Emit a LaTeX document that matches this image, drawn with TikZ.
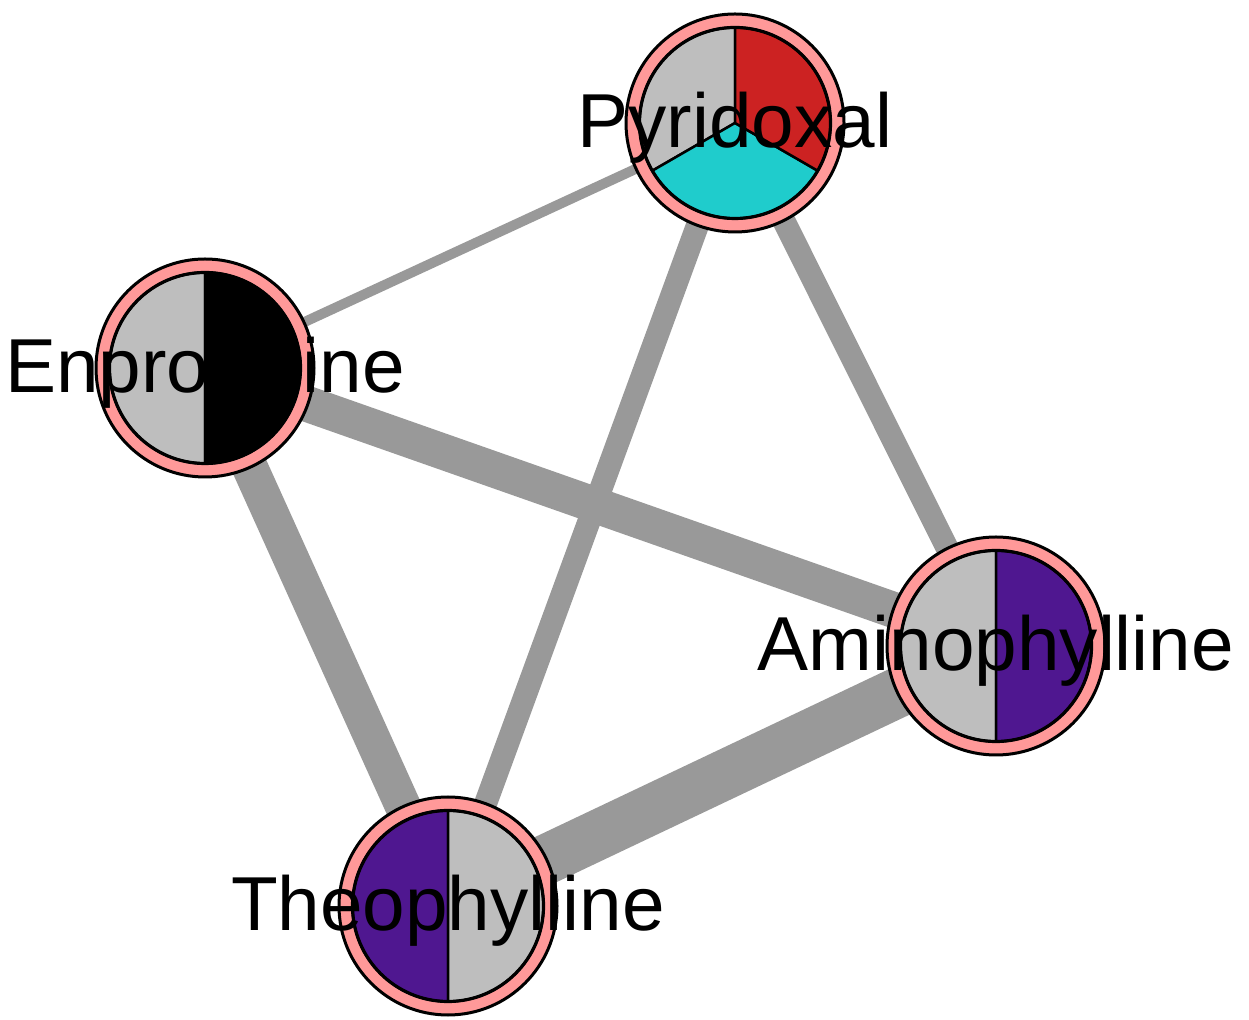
\documentclass[tikz,border=0pt]{standalone}
\usepackage{fontspec}
\setmainfont{Liberation Sans}
\usetikzlibrary{calc}
\definecolor{edgegray}{HTML}{999999}
\definecolor{slicegray}{HTML}{BEBEBE}
\definecolor{ringpink}{HTML}{FF9999}
\definecolor{pred}{HTML}{CC2222}
\definecolor{pcyan}{HTML}{1FCCCC}
\definecolor{ppurple}{HTML}{4F1790}
\pgfdeclarelayer{bg}
\pgfsetlayers{bg,main}
\begin{document}
\begin{tikzpicture}[x=1pt,y=1pt,
  ring/.style={circle,minimum size=218pt,inner sep=0pt,fill=ringpink,draw=black,line width=3pt},
  slice/.style={draw=black,line width=2.5pt,line join=round},
  rim/.style={draw=black,line width=3.2pt},
  edge/.style={draw=edgegray,line cap=butt},
  lab/.style={font=\fontsize{76.5}{90}\selectfont,anchor=base,inner sep=0pt}]
\useasboundingbox (0,0) rectangle (1249,1019);
% nodes
\node[ring] (P) at (735,896) {};
\node[ring] (E) at (205,651) {};
\node[ring] (A) at (996,373) {};
\node[ring] (T) at (448,113) {};
% edges
\begin{pgfonlayer}{bg}
\draw[edge,line width=10pt] (P.center) -- (E.center);
\draw[edge,line width=23pt] (P.center) -- (T.center);
\draw[edge,line width=23pt] (P.center) -- (A.center);
\draw[edge,line width=36pt] (E.center) -- (A.center);
\draw[edge,line width=36pt] (E.center) -- (T.center);
\draw[edge,line width=50pt] (T.center) -- (A.center);
\end{pgfonlayer}
% Pyridoxal pie
\path[slice,fill=slicegray] (P.center) -- ++(90:95.5) arc[start angle=90,end angle=210,radius=95.5] -- cycle;
\path[slice,fill=pcyan] (P.center) -- ++(210:95.5) arc[start angle=210,end angle=330,radius=95.5] -- cycle;
\path[slice,fill=pred] (P.center) -- ++(-30:95.5) arc[start angle=-30,end angle=90,radius=95.5] -- cycle;
\draw[rim] (P.center) circle[radius=95.5];
% Enprofylline pie
\path[slice,fill=slicegray] (E.center) -- ++(90:95.5) arc[start angle=90,end angle=270,radius=95.5] -- cycle;
\path[slice,fill=black] (E.center) -- ++(-90:95.5) arc[start angle=-90,end angle=90,radius=95.5] -- cycle;
\draw[rim] (E.center) circle[radius=95.5];
% Aminophylline pie
\path[slice,fill=slicegray] (A.center) -- ++(90:95.5) arc[start angle=90,end angle=270,radius=95.5] -- cycle;
\path[slice,fill=ppurple] (A.center) -- ++(-90:95.5) arc[start angle=-90,end angle=90,radius=95.5] -- cycle;
\draw[rim] (A.center) circle[radius=95.5];
% Theophylline pie
\path[slice,fill=ppurple] (T.center) -- ++(90:95.5) arc[start angle=90,end angle=270,radius=95.5] -- cycle;
\path[slice,fill=slicegray] (T.center) -- ++(-90:95.5) arc[start angle=-90,end angle=90,radius=95.5] -- cycle;
\draw[rim] (T.center) circle[radius=95.5];
% labels
\node[lab] (Pl) at ($(P.center)+(0,-25)$) {Pyridoxal};
\node[lab] (El) at ($(E.center)+(0,-25)$) {Enprofylline};
\node[lab] (Al) at ($(A.center)+(0,-25)$) {Aminophylline};
\node[lab] (Tl) at ($(T.center)+(0,-25)$) {Theophylline};
\end{tikzpicture}
\end{document}
